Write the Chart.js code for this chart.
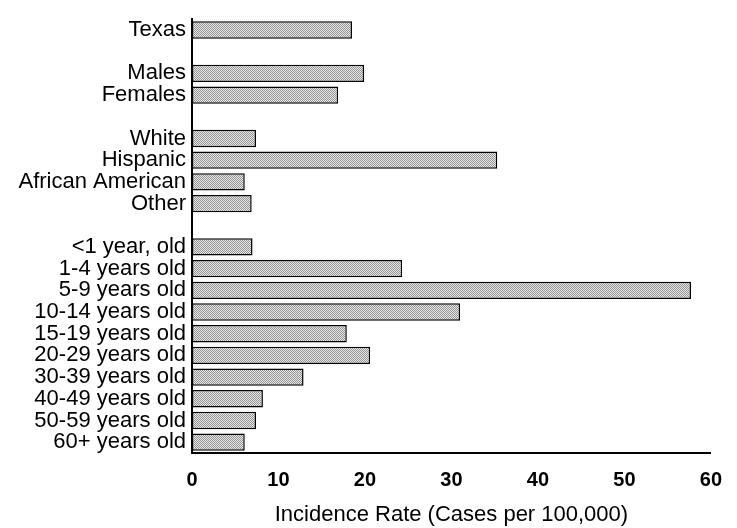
<!DOCTYPE html>
<html>
<head>
<meta charset="utf-8">
<script src="https://cdn.jsdelivr.net/npm/chart.js@4/dist/chart.umd.min.js"></script>
<style>
  html, body { margin: 0; padding: 0; background: #fff; }
  #wrap { width: 737px; height: 528px; }
</style>
</head>
<body>
<div id="wrap"><canvas id="graph" width="737" height="528"></canvas></div>
<script>
// blank labels are the gaps between groups
const categories = [
  'Texas', '',
  'Males', 'Females', '',
  'White', 'Hispanic', 'African American', 'Other', '',
  '<1 year, old', '1-4 years old', '5-9 years old', '10-14 years old',
  '15-19 years old', '20-29 years old', '30-39 years old', '40-49 years old',
  '50-59 years old', '60+ years old'
];
const rates = [
  18.5, null,
  19.9, 16.9, null,
  7.4, 35.3, 6.1, 6.9, null,
  7.0, 24.3, 57.7, 31.0, 17.9, 20.6, 12.9, 8.2, 7.4, 6.1
];
const xTicks = [0, 10, 20, 30, 40, 50, 60];

// stippled grey fill like the original print
function stipple() {
  const c = document.createElement('canvas');
  c.width = 2; c.height = 2;
  const g = c.getContext('2d');
  g.fillStyle = '#e6e6e6';
  g.fillRect(0, 0, 2, 2);
  g.fillStyle = '#959595';
  g.fillRect(0, 0, 1, 1);
  g.fillRect(1, 1, 1, 1);
  return g.createPattern(c, 'repeat');
}

const ctx = document.getElementById('graph').getContext('2d');
new Chart(ctx, {
  type: 'bar',
  data: {
    labels: categories,
    datasets: [{
      data: rates,
      backgroundColor: stipple(),
      borderColor: '#000',
      borderWidth: 1.5,
      borderSkipped: false,
      barPercentage: 0.8,
      categoryPercentage: 1.0
    }]
  },
  options: {
    indexAxis: 'y',
    responsive: false,
    animation: false,
    layout: { padding: { top: 8, right: 22, left: 0, bottom: 0 } },
    plugins: { legend: { display: false }, tooltip: { enabled: false } },
    scales: {
      x: {
        min: 0,
        max: 60,
        afterBuildTicks: (s) => { s.ticks = xTicks.map(v => ({ value: v })); },
        afterFit: (s) => { s.height = 75; },
        grid: { display: false, drawTicks: false },
        border: { display: true, color: '#000', width: 2 },
        ticks: {
          color: '#000',
          padding: 15,
          maxRotation: 0,
          font: { family: 'Liberation Sans', size: 20, weight: 'bold' }
        },
        title: {
          display: true,
          text: 'Incidence Rate (Cases per 100,000)',
          color: '#000',
          padding: { top: 9, bottom: 0 },
          font: { family: 'Liberation Sans', size: 22 }
        }
      },
      y: {
        afterFit: (s) => { s.width = 192; },
        grid: { display: false, drawTicks: false },
        border: { display: true, color: '#000', width: 2 },
        ticks: {
          color: '#000',
          padding: 6,
          autoSkip: false,
          font: { family: 'Liberation Sans', size: 22 }
        }
      }
    }
  }
});
</script>
</body>
</html>
